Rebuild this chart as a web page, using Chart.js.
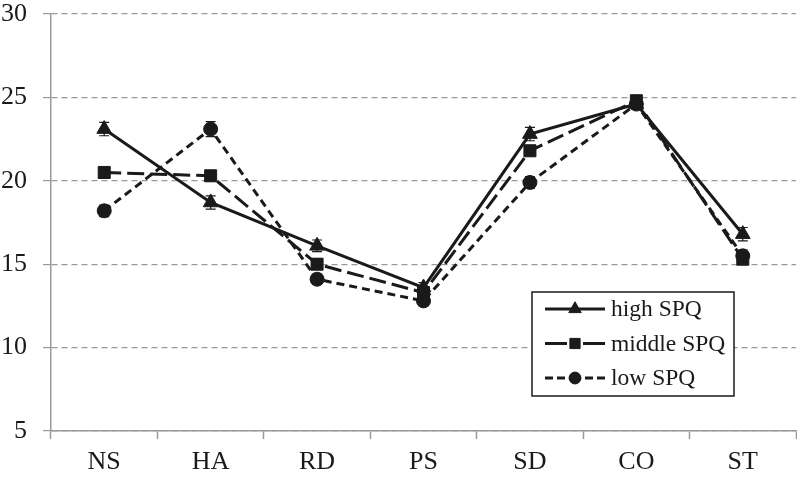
<!DOCTYPE html>
<html>
<head>
<meta charset="utf-8">
<script src="https://cdn.jsdelivr.net/npm/chart.js@4"></script>
<style>
  html, body { margin: 0; padding: 0; background: #fff; }
  #wrap { width: 797px; height: 484px; }
</style>
</head>
<body>
<div id="wrap"><canvas id="chart" width="797" height="484"></canvas></div>
<script>
// chart data
const categories = ["NS", "HA", "RD", "PS", "SD", "CO", "ST"];
const highSPQ = [23.1, 18.7, 16.1, 13.6, 22.8, 24.6, 16.8];
const middleSPQ = [20.5, 20.3, 15.0, 13.3, 21.8, 24.8, 15.3];
const lowSPQ = [18.2, 23.1, 14.1, 12.8, 19.9, 24.6, 15.5];
const highErr = [0.4, 0.4, 0.35, 0.3, 0.4, 0.3, 0.4];
const middleErr = [0.3, 0.3, 0.3, 0.3, 0.3, 0.3, 0.3];
const lowErr = [0.35, 0.45, 0.3, 0.3, 0.35, 0.3, 0.35];
const yTicks = { min: 5, max: 30, step: 5 };

const INK = "#1a1a1a";
const FONT = "'Liberation Serif', 'Times New Roman', serif";

// small error bars drawn through the y scale
const errorBars = {
  id: "errorBars",
  beforeDatasetsDraw(chart) {
    const { ctx } = chart;
    const y = chart.scales.y;
    chart.data.datasets.forEach((ds, i) => {
      const meta = chart.getDatasetMeta(i);
      ctx.save();
      ctx.strokeStyle = INK;
      ctx.lineWidth = 1.2;
      meta.data.forEach((pt, j) => {
        const v = ds.data[j], e = ds.errors[j];
        const top = y.getPixelForValue(v + e);
        const bot = y.getPixelForValue(v - e);
        ctx.beginPath();
        ctx.moveTo(pt.x, top); ctx.lineTo(pt.x, bot);
        ctx.moveTo(pt.x - 5, top); ctx.lineTo(pt.x + 5, top);
        ctx.moveTo(pt.x - 5, bot); ctx.lineTo(pt.x + 5, bot);
        ctx.stroke();
      });
      ctx.restore();
    });
  }
};

// boxed legend inside the plot, lower right
const boxLegend = {
  id: "boxLegend",
  afterDraw(chart) {
    const { ctx, chartArea: a } = chart;
    const bx = a.right - 264, by = a.top + 278, bw = 202, bh = 104;
    ctx.save();
    ctx.fillStyle = "#fff";
    ctx.fillRect(bx, by, bw, bh);
    ctx.strokeStyle = INK;
    ctx.lineWidth = 1.5;
    ctx.strokeRect(bx, by, bw, bh);
    chart.data.datasets.forEach((ds, i) => {
      const cy = by + 17 + i * 34.5;
      const x0 = bx + 13, x1 = bx + 73, xm = bx + 43;
      ctx.strokeStyle = INK;
      ctx.lineWidth = 3;
      ctx.setLineDash(ds.legendDash);
      ctx.beginPath(); ctx.moveTo(x0, cy); ctx.lineTo(xm, cy); ctx.stroke();
      ctx.beginPath(); ctx.moveTo(x1, cy); ctx.lineTo(xm, cy); ctx.stroke();
      ctx.setLineDash([]);
      ctx.fillStyle = INK;
      ctx.lineWidth = 1;
      Chart.helpers.drawPoint(ctx, {
        pointStyle: ds.pointStyle, radius: ds.pointRadius * 0.85, borderWidth: 1, rotation: 0
      }, xm, cy);
      ctx.fillStyle = INK;
      ctx.font = "23.5px " + FONT;
      ctx.textBaseline = "middle";
      ctx.textAlign = "left";
      ctx.fillText(ds.label, bx + 79, cy + 1);
    });
    ctx.restore();
  }
};

function makeSet(label, data, errors, style, radius, dash, legendDash) {
  return {
    label, data, errors,
    borderColor: INK,
    backgroundColor: INK,
    borderWidth: 3,
    borderDash: dash,
    pointStyle: style,
    pointRadius: radius,
    pointHoverRadius: radius,
    pointBackgroundColor: INK,
    pointBorderColor: INK,
    pointBorderWidth: 1,
    tension: 0,
    legendDash
  };
}

function draw() {
  new Chart(document.getElementById("chart"), {
    type: "line",
    data: {
      labels: categories,
      datasets: [
        makeSet("high SPQ", highSPQ, highErr, "triangle", 8.5, [], []),
        makeSet("middle SPQ", middleSPQ, middleErr, "rect", 8.5, [17, 6], [22, 6]),
        makeSet("low SPQ", lowSPQ, lowErr, "circle", 7, [8, 5], [8, 4])
      ]
    },
    options: {
      responsive: false,
      animation: false,
      layout: { autoPadding: false, padding: { top: 14, right: 1, left: 0, bottom: 0 } },
      plugins: { legend: { display: false }, tooltip: { enabled: false } },
      scales: {
        x: {
          offset: true,
          afterFit(s) { s.height = 53; s.paddingLeft = 0; s.paddingRight = 0; },
          grid: {
            offset: true,
            drawOnChartArea: false,
            drawTicks: true,
            tickLength: 8,
            tickColor: "#999",
            tickWidth: 1.5
          },
          border: { color: "#999", width: 1.5 },
          ticks: { color: INK, font: { family: FONT, size: 26 }, padding: 8 }
        },
        y: {
          min: yTicks.min,
          max: yTicks.max,
          afterFit(s) { s.width = 51; s.paddingTop = 0; s.paddingBottom = 0; },
          grid: {
            color: "#999",
            lineWidth: 1.2,
            tickBorderDash: [],
            tickLength: 8,
            tickColor: "#999"
          },
          border: { color: "#999", width: 1.5, dash: [6, 4] },
          ticks: {
            stepSize: yTicks.step,
            color: INK,
            font: { family: FONT, size: 26 },
            padding: 16
          }
        }
      }
    },
    plugins: [errorBars, boxLegend]
  });
}

document.fonts.load("24px 'Liberation Serif'").then(draw, draw);
</script>
</body>
</html>
